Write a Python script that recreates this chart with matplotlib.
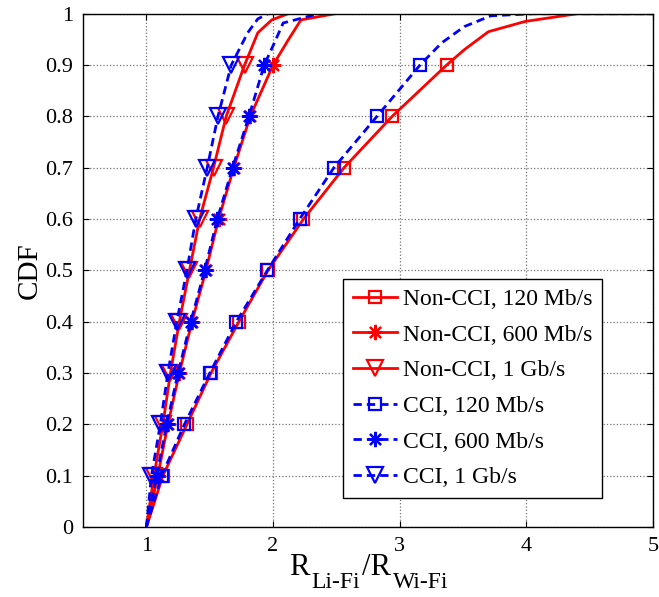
import numpy as np
import matplotlib.pyplot as plt

plt.rcParams['font.family'] = ['Liberation Serif', 'DejaVu Serif']

# x values read at the CDF levels of each curve
cdf_levels = [0, 0.1, 0.2, 0.3, 0.4, 0.5, 0.6, 0.7, 0.8, 0.9]

non_cci_120_x = [1.0, 1.13, 1.32, 1.51, 1.73, 1.96, 2.24, 2.56, 2.94, 3.37, 3.51, 3.70, 3.99, 4.40, 5.0]
non_cci_120_y = cdf_levels + [0.93, 0.965, 0.985, 1.0, 1.0]

cci_120_x = [1.0, 1.12, 1.30, 1.50, 1.71, 1.955, 2.21, 2.48, 2.82, 3.16, 3.33, 3.51, 3.72, 4.05, 5.0]
cci_120_y = cdf_levels + [0.943, 0.975, 0.996, 1.0, 1.0]

non_cci_600_x = [1.0, 1.09, 1.17, 1.26, 1.36, 1.47, 1.57, 1.69, 1.82, 2.0, 2.12, 2.22, 2.49]
non_cci_600_y = cdf_levels + [0.949, 0.988, 1.0]

cci_600_x = [1.0, 1.08, 1.16, 1.25, 1.35, 1.46, 1.56, 1.68, 1.81, 1.93, 2.01, 2.08, 2.36]
cci_600_y = cdf_levels + [0.943, 0.982, 1.0]

non_cci_1g_x = [1.0, 1.06, 1.13, 1.19, 1.26, 1.34, 1.42, 1.53, 1.63, 1.775, 1.88, 1.99, 2.12]
non_cci_1g_y = cdf_levels + [0.963, 0.988, 1.0]

cci_1g_x = [1.0, 1.04, 1.11, 1.17, 1.24, 1.32, 1.39, 1.48, 1.565, 1.67, 1.80, 1.88, 1.96]
cci_1g_y = cdf_levels + [0.963, 0.99, 1.0]

labels = ['Non-CCI, 120 Mb/s', 'Non-CCI, 600 Mb/s', 'Non-CCI, 1 Gb/s',
          'CCI, 120 Mb/s', 'CCI, 600 Mb/s', 'CCI, 1 Gb/s']

fig = plt.figure(figsize=(6.59, 5.97), dpi=100)
ax = fig.add_axes([0.126, 0.117, 0.865, 0.860])

marks = list(range(1, 10))
ast = (8, 2, 0)
LW = 2.0
DASH = (3, 1.8)

ax.plot(non_cci_120_x, non_cci_120_y, '-', color='red', lw=LW, marker='s', ms=9,
        mfc='none', mew=1.6, markevery=marks, label=labels[0])
ax.plot(non_cci_600_x, non_cci_600_y, '-', color='red', lw=LW, marker=ast, ms=11,
        mew=1.6, markevery=marks, label=labels[1])
ax.plot(non_cci_1g_x, non_cci_1g_y, '-', color='red', lw=LW, marker='v', ms=12,
        mfc='none', mew=1.6, markevery=marks, label=labels[2])
ax.plot(cci_120_x, cci_120_y, '--', color='blue', lw=LW, dashes=DASH, marker='s', ms=9,
        mfc='none', mew=1.6, markevery=marks, label=labels[3])
ax.plot(cci_600_x, cci_600_y, '--', color='blue', lw=LW, dashes=DASH, marker=ast, ms=11,
        mew=1.6, markevery=marks, label=labels[4])
ax.plot(cci_1g_x, cci_1g_y, '--', color='blue', lw=LW, dashes=DASH, marker='v', ms=12,
        mfc='none', mew=1.6, markevery=marks, label=labels[5])

ax.set_xlim(0.5, 5)
ax.set_ylim(0, 1)
ax.set_xticks([1, 2, 3, 4, 5])
ax.set_yticks(np.arange(0, 1.01, 0.1))
ax.set_yticklabels(['0', '0.1', '0.2', '0.3', '0.4', '0.5', '0.6', '0.7', '0.8', '0.9', '1'])
ax.tick_params(direction='in', top=True, right=True, labelsize=16, length=4, pad=7)
ax.grid(True, linestyle=':', color='0.45', linewidth=0.9)
for s in ax.spines.values():
    s.set_linewidth(1.0)

ax.set_ylabel('CDF', fontsize=21, labelpad=2)

# x label in MATLAB style: big subscripts dropped well below the baseline
pieces = [('R', 22, 0), ('Li-Fi', 17, -13), ('/R', 22, 0), ('Wi-Fi', 17, -13)]
fig.canvas.draw()
renderer = fig.canvas.get_renderer()
texts = []
for s, size, dy in pieces:
    texts.append(fig.text(0, 0, s, fontsize=size, ha='left', va='baseline'))
widths = [t.get_window_extent(renderer).width for t in texts]
x0 = 366 - sum(widths) / 2
base = 22
for t, w, (s, size, dy) in zip(texts, widths, pieces):
    t.set_position((x0 / 659, (base + dy) / 597))
    x0 += w + 2

leg = ax.legend(loc='lower right', bbox_to_anchor=(0.911, 0.057), fontsize=17,
                fancybox=False, edgecolor='black', framealpha=1, handlelength=1.9,
                borderpad=0.4, labelspacing=0.6, handletextpad=0.25, borderaxespad=0)
leg.get_frame().set_linewidth(1.0)

fig.savefig('out.png', dpi=100)
